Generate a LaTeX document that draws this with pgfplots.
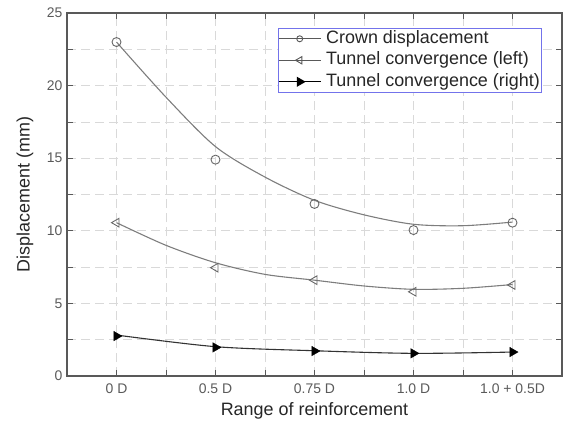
\documentclass[border=0pt]{standalone}
\usepackage{fontspec}
\setmainfont{Liberation Sans}
\usepackage{pgfplots}
\pgfplotsset{compat=1.18}
\definecolor{curvegray}{RGB}{125,125,125}
\definecolor{labelgray}{RGB}{90,90,90}
\definecolor{legblue}{RGB}{115,115,235}

\begin{document}
\begin{tikzpicture}
\begin{axis}[
  name=ax,
  scale only axis,
  width=495bp, height=363bp,
  xmin=-0.5, xmax=4.5, ymin=0, ymax=25,
  xtick={0,1,2,3,4},
  xticklabels={0 D, 0.5 D, 0.75 D, 1.0 D, 1.0 + 0.5D},
  ytick={0,5,10,15,20,25},
  minor x tick num=1, minor y tick num=1,
  grid=both,
  major grid style={gray!30, line width=0.8pt, dash pattern=on 9bp off 5bp},
  minor grid style={gray!30, line width=0.8pt, dash pattern=on 9bp off 5bp},
  axis line style={black!65, line width=1.1pt},
  major tick length=6bp, minor tick length=6bp,
  tick style={black!65, line width=0.7pt},
  tick label style={font=\fontsize{14}{16}\selectfont, text=labelgray},
  /pgf/number format/assume math mode=true,
  xticklabel style={yshift=-4bp},
  yticklabel style={xshift=-1bp},
  xlabel={Range of reinforcement},
  ylabel={Displacement (mm)},
  every axis x label/.style={at={(rel axis cs:0.5,0)}, yshift=-35bp, anchor=center,
    font=\fontsize{18}{20}\selectfont, text=black!85},
  every axis y label/.style={at={(rel axis cs:0,0.5)}, xshift=-42bp, rotate=90, anchor=center,
    font=\fontsize{18}{20}\selectfont, text=black!85},
  legend style={font=\fontsize{18}{20}\selectfont, text=black!85, draw=legblue, line width=0.8pt,
    at={(0.426,0.959)}, anchor=north west, cells={anchor=west},
    nodes={inner ysep=0pt, inner xsep=2bp, text height=13bp, text depth=4bp},
    /tikz/every odd column/.append style={column sep=3bp},
    row sep=4.5bp, inner xsep=0pt, inner ysep=2bp},
  legend image code/.code={
    \draw[#1] (0bp,0bp) -- (42bp,0bp);
    \draw[#1, only marks] plot coordinates {(21bp,0bp)};
  },
]
% legend entries
\addlegendimage{black!65, line width=0.9pt, mark=o, mark size=3bp, mark options={solid, fill=white}}
\addlegendentry{Crown displacement}
\addlegendimage{black!65, line width=0.9pt, mark=triangle, mark size=4.2bp, mark options={rotate=90, fill=white}}
\addlegendentry{Tunnel convergence (left)}
\addlegendimage{black, line width=0.9pt, mark=triangle*, mark size=5bp, mark options={rotate=-90}}
\addlegendentry{Tunnel convergence (right)}

% fitted curves
\addplot[curvegray, line width=1.1pt, smooth, forget plot] coordinates {
  (0,23.0) (0.5,19.2) (1,15.8) (1.5,13.7) (2,12.1) (2.5,11.1) (3,10.45) (3.5,10.35) (4,10.6)};
\addplot[curvegray, line width=1.1pt, smooth, forget plot] coordinates {
  (0,10.56) (0.5,9.0) (1,7.8) (1.5,7.0) (2,6.6) (2.5,6.2) (3,5.97) (3.5,6.04) (4,6.3)};
\addplot[black!80, line width=1.1pt, smooth, forget plot] coordinates {
  (0,2.82) (1,2.02) (2,1.74) (3,1.56) (4,1.65)};

% measured points
\addplot[only marks, mark=o, mark size=4.5bp, black!60, line width=0.9pt, mark options={fill=white}, forget plot]
  coordinates {(0,23.0) (1,14.9) (2,11.85) (3,10.05) (4,10.56)};
\addplot[only marks, mark=triangle, mark size=5bp, black!60, line width=0.9pt, mark options={rotate=90, fill=white}, forget plot]
  coordinates {(0,10.56) (1,7.46) (2,6.6) (3,5.8) (4,6.27)};
\addplot[only marks, mark=triangle*, mark size=5.5bp, black, mark options={rotate=-90}, forget plot]
  coordinates {(0,2.75) (1,1.97) (2,1.72) (3,1.56) (4,1.65)};
\end{axis}
% page frame matching the reference
\path (ax.south west) ++(-67bp,-56bp);
\path (ax.north east) ++(1bp,13bp);
\end{tikzpicture}
\end{document}
